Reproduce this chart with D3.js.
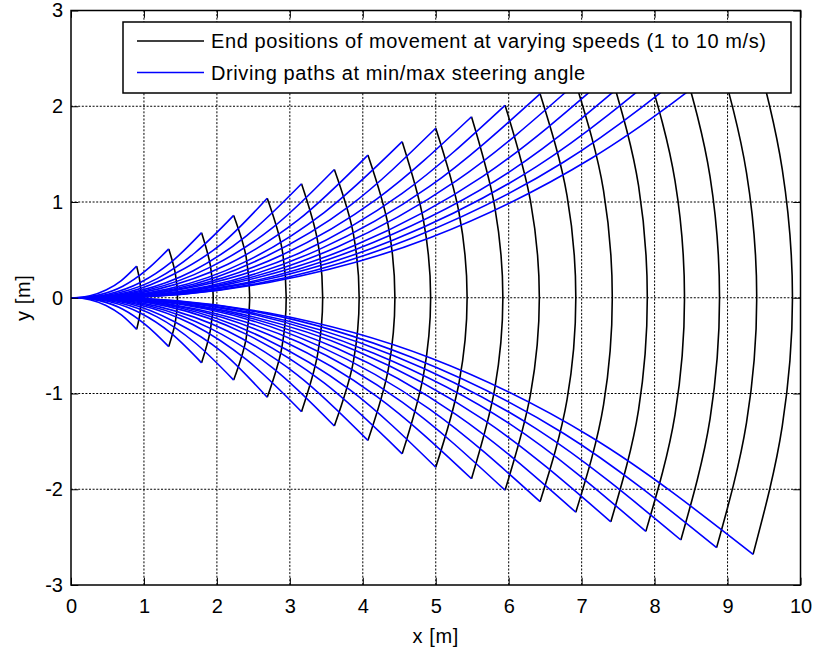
<!DOCTYPE html>
<html>
<head>
<meta charset="utf-8">
<script src="https://cdn.jsdelivr.net/npm/d3@7"></script>
<style>
  body { margin: 0; background: #fff; }
  text { font-family: "Liberation Sans", Arial, sans-serif; fill: #000; }
</style>
</head>
<body>
<div id="chart"></div>
<script>
// speeds in m/s, one black arc and two blue paths per speed
const speeds = [1, 1.5, 2, 2.5, 3, 3.5, 4, 4.5, 5, 5.5, 6, 6.5, 7, 7.5, 8, 8.5, 9, 9.5, 10];

// arc x at straight ahead, x at half lateral offset, end point at min/max steering
const arcCenterX = [0.96, 1.46, 1.95, 2.45, 2.95, 3.45, 3.95, 4.44, 4.93, 5.43, 5.92, 6.42, 6.92, 7.42, 7.90, 8.41, 8.89, 9.40, 9.89];
const arcMidX = [0.945, 1.43, 1.91, 2.40, 2.89, 3.38, 3.87, 4.35, 4.83, 5.32, 5.81, 6.30, 6.80, 7.30, 7.78, 8.28, 8.76, 9.26, 9.75];
const endX = [0.90, 1.34, 1.79, 2.23, 2.69, 3.16, 3.61, 4.07, 4.54, 5.00, 5.49, 5.95, 6.43, 6.92, 7.40, 7.88, 8.36, 8.85, 9.35];
const endY = [0.33, 0.51, 0.68, 0.86, 1.04, 1.19, 1.34, 1.49, 1.63, 1.77, 1.89, 2.01, 2.13, 2.24, 2.34, 2.44, 2.53, 2.61, 2.68];

// points along each driving path before its end point (lateral offset as magnitude)
const pathX = [
  [0, 0.05, 0.26, 0.48, 0.69],
  [0, 0.075, 0.39, 0.71, 1.02],
  [0, 0.10, 0.52, 0.95, 1.37],
  [0, 0.125, 0.65, 1.18, 1.70],
  [0, 0.15, 0.79, 1.42, 2.06],
  [0, 0.175, 0.92, 1.67, 2.41],
  [0, 0.20, 1.05, 1.91, 2.76],
  [0, 0.225, 1.19, 2.15, 3.11],
  [0, 0.25, 1.32, 2.40, 3.47],
  [0, 0.275, 1.46, 2.64, 3.82],
  [0, 0.30, 1.60, 2.90, 4.19],
  [0, 0.325, 1.73, 3.14, 4.54],
  [0, 0.35, 1.87, 3.39, 4.91],
  [0, 0.375, 2.01, 3.65, 5.28],
  [0, 0.40, 2.15, 3.90, 5.65],
  [0, 0.425, 2.29, 4.15, 6.02],
  [0, 0.45, 2.43, 4.41, 6.38],
  [0, 0.475, 2.57, 4.66, 6.76],
  [0, 0.50, 2.71, 4.93, 7.14]
];
const pathY = [
  [0, 0, 0.02, 0.08, 0.18],
  [0, 0, 0.03, 0.12, 0.28],
  [0, 0, 0.04, 0.16, 0.37],
  [0, 0, 0.05, 0.20, 0.47],
  [0, 0, 0.06, 0.25, 0.56],
  [0, 0, 0.07, 0.28, 0.65],
  [0, 0, 0.08, 0.32, 0.73],
  [0, 0, 0.09, 0.35, 0.81],
  [0, 0, 0.09, 0.38, 0.89],
  [0, 0, 0.10, 0.42, 0.96],
  [0, 0, 0.11, 0.45, 1.03],
  [0, 0, 0.12, 0.47, 1.09],
  [0, 0, 0.12, 0.50, 1.16],
  [0, 0, 0.13, 0.53, 1.22],
  [0, 0, 0.14, 0.55, 1.27],
  [0, 0, 0.14, 0.58, 1.32],
  [0, 0, 0.15, 0.60, 1.37],
  [0, 0, 0.15, 0.62, 1.42],
  [0, 0, 0.16, 0.63, 1.46]
];

const xTicks = [0, 1, 2, 3, 4, 5, 6, 7, 8, 9, 10];
const yTicks = [-3, -2, -1, 0, 1, 2, 3];
const legendLabels = [
  "End positions of movement at varying speeds (1 to 10 m/s)",
  "Driving paths at min/max steering angle"
];

const box = { left: 71, right: 800.5, top: 10.5, bottom: 585 };
const tickLen = 7.3;
const lineWidth = 1.6;

const x = d3.scaleLinear().domain([0, 10]).range([box.left, box.right]);
const y = d3.scaleLinear().domain([-3, 3]).range([box.bottom, box.top]);

const svg = d3.select("#chart")
  .append("svg")
  .attr("width", 815)
  .attr("height", 650);

// Grid
svg.append("g")
  .selectAll("line")
  .data(xTicks.slice(1, -1))
  .enter()
  .append("line")
  .attr("x1", d => x(d)).attr("x2", d => x(d))
  .attr("y1", box.top).attr("y2", box.bottom)
  .attr("stroke", "#000")
  .attr("stroke-width", 1)
  .attr("stroke-dasharray", "2,1.6");

svg.append("g")
  .selectAll("line")
  .data(yTicks.slice(1, -1))
  .enter()
  .append("line")
  .attr("x1", box.left).attr("x2", box.right)
  .attr("y1", d => y(d)).attr("y2", d => y(d))
  .attr("stroke", "#000")
  .attr("stroke-width", 1)
  .attr("stroke-dasharray", "2,1.6");

// Curves
const arcLine = d3.line()
  .x(d => x(d[0]))
  .y(d => y(d[1]))
  .curve(d3.curveMonotoneY);

const pathLine = d3.line()
  .x(d => x(d[0]))
  .y(d => y(d[1]))
  .curve(d3.curveMonotoneX);

const plot = svg.append("g");

speeds.forEach((v, i) => {
  const arc = [
    [endX[i], -endY[i]],
    [arcMidX[i], -endY[i] / 2],
    [arcCenterX[i], 0],
    [arcMidX[i], endY[i] / 2],
    [endX[i], endY[i]]
  ];
  plot.append("path")
    .attr("d", arcLine(arc))
    .attr("fill", "none")
    .attr("stroke", "#000")
    .attr("stroke-width", lineWidth);

  [1, -1].forEach(side => {
    const pts = pathX[i].map((px, j) => [px, side * pathY[i][j]]);
    pts.push([endX[i], side * endY[i]]);
    plot.append("path")
      .attr("d", pathLine(pts))
      .attr("fill", "none")
      .attr("stroke", "#0000ff")
      .attr("stroke-width", lineWidth);
  });
});

// Axes (ticks point inwards, box on all sides)
const xAxis = d3.axisBottom(x).tickValues(xTicks).tickFormat(d => String(d))
  .tickSizeInner(-tickLen).tickSizeOuter(0).tickPadding(14);
const yAxis = d3.axisLeft(y).tickValues(yTicks).tickFormat(d => String(d))
  .tickSizeInner(-tickLen).tickSizeOuter(0).tickPadding(8);

svg.append("g")
  .attr("transform", `translate(0,${box.bottom})`)
  .call(xAxis);

svg.append("g")
  .attr("transform", `translate(${box.left},0)`)
  .call(yAxis);

svg.append("g")
  .attr("transform", `translate(0,${box.top})`)
  .call(d3.axisTop(x).tickValues(xTicks).tickSizeInner(-tickLen).tickSizeOuter(0).tickFormat(""));

svg.append("g")
  .attr("transform", `translate(${box.right},0)`)
  .call(d3.axisRight(y).tickValues(yTicks).tickSizeInner(-tickLen).tickSizeOuter(0).tickFormat(""));

svg.selectAll(".domain").remove();
svg.selectAll(".tick line").attr("stroke", "#000").attr("stroke-width", 1);
svg.selectAll(".tick text")
  .style("font-family", '"Liberation Sans", Arial, sans-serif')
  .style("font-size", "20px")
  .attr("fill", "#000");

svg.append("rect")
  .attr("x", box.left).attr("y", box.top)
  .attr("width", box.right - box.left).attr("height", box.bottom - box.top)
  .attr("fill", "none")
  .attr("stroke", "#000")
  .attr("stroke-width", 1.5);

// Axis labels
svg.append("text")
  .attr("x", (box.left + box.right) / 2)
  .attr("y", 643)
  .attr("text-anchor", "middle")
  .style("font-size", "20px")
  .style("letter-spacing", "0.6px")
  .text("x [m]");

svg.append("text")
  .attr("transform", `translate(30,${(box.top + box.bottom) / 2}) rotate(-90)`)
  .attr("text-anchor", "middle")
  .style("font-size", "20px")
  .style("letter-spacing", "0.6px")
  .text("y [m]");

// Legend
const legend = svg.append("g");
legend.append("rect")
  .attr("x", 123).attr("y", 22)
  .attr("width", 668).attr("height", 71)
  .attr("fill", "#fff")
  .attr("stroke", "#000")
  .attr("stroke-width", 1.5);

const legendColors = ["#000", "#0000ff"];
legendLabels.forEach((label, i) => {
  const ly = 41 + i * 31.5;
  legend.append("line")
    .attr("x1", 137).attr("x2", 204)
    .attr("y1", ly).attr("y2", ly)
    .attr("stroke", legendColors[i])
    .attr("stroke-width", lineWidth);
  legend.append("text")
    .attr("x", 211)
    .attr("y", ly + 7)
    .style("font-size", "20px")
    .style("letter-spacing", "0.6px")
    .text(label);
});
</script>
</body>
</html>
